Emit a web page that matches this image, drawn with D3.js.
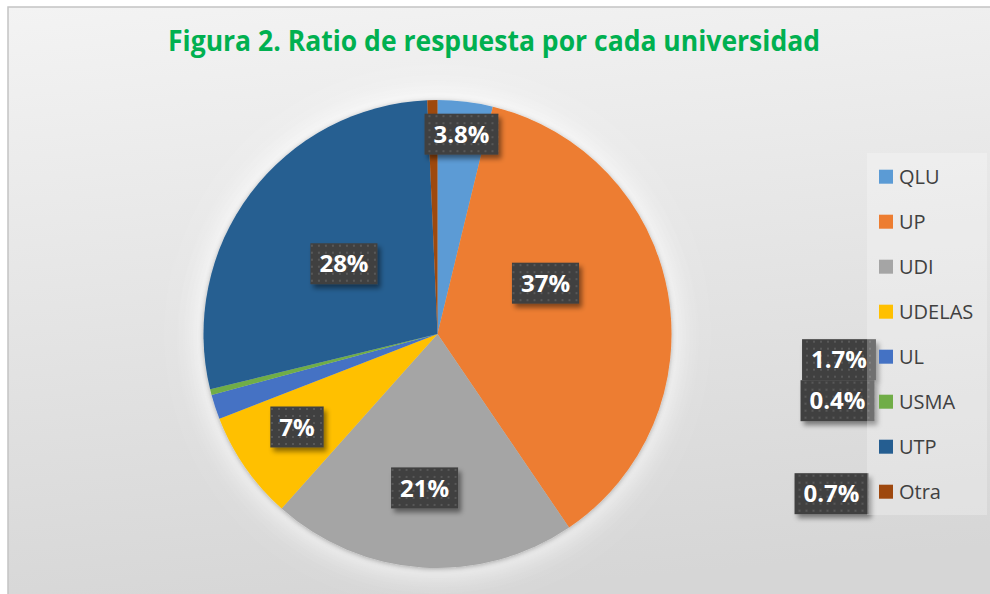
<!DOCTYPE html>
<meta charset="utf-8">
<head>
  <script src="https://d3js.org/d3.v7.min.js"></script>
  <style>
    body { margin: 0; background: #fff; }
    svg text { font-family: "Open Sans", sans-serif; }
  </style>
</head>
<body>
<div id="chart"></div>
<script type="text/javascript">
  "use strict"

  // datos
  var universidades = ["QLU", "UP", "UDI", "UDELAS", "UL", "USMA", "UTP", "Otra"];
  var porcentajes   = [3.8, 36.7, 21.1, 7.5, 1.7, 0.4, 28.1, 0.7];
  var etiquetas     = ["3.8%", "37%", "21%", "7%", "1.7%", "0.4%", "28%", "0.7%"];
  var colores       = ["#5B9BD5", "#ED7D31", "#A5A5A5", "#FFC000", "#4472C4", "#70AD47", "#255E91", "#9E480E"];

  var titulo = "Figura 2. Ratio de respuesta por cada universidad";

  // dónde va cada etiqueta: dentro (radio relativo, ángulo opcional) o junto a la leyenda
  var posEtiquetas = [
    {r: 0.86}, {r: 0.51, ang: 64.8}, {r: 0.66, ang: 184.8}, {r: 0.72, ang: 236.5},
    {fila: 4, dx: -32, dy: 3}, {fila: 5, dx: -33.5, dy: -1}, {r: 0.5}, {fila: 7, dx: -39.5, dy: 2}
  ];

  var ancho = 990, alto = 594;
  var cx = 437.5, cy = 334, radio = 234;

  var svg = d3.select('#chart').append('svg')
      .attr('width', ancho)
      .attr('height', alto);

  var defs = svg.append('defs');

  var fondo = defs.append('linearGradient')
      .attr('id', 'fondo')
      .attr('x1', 0).attr('y1', 0).attr('x2', 0.15).attr('y2', 1);
  fondo.append('stop').attr('offset', 0).attr('stop-color', '#f3f3f3');
  fondo.append('stop').attr('offset', 1).attr('stop-color', '#d6d6d6');

  var brillo = defs.append('filter').attr('id', 'brillo')
      .attr('x', -0.3).attr('y', -0.3).attr('width', 1.6).attr('height', 1.6);
  brillo.append('feGaussianBlur').attr('stdDeviation', 16);

  var sombraPie = defs.append('filter').attr('id', 'sombraPie')
      .attr('x', -0.2).attr('y', -0.2).attr('width', 1.4).attr('height', 1.4);
  sombraPie.append('feDropShadow')
      .attr('dx', 0).attr('dy', 1).attr('stdDeviation', 2.5)
      .attr('flood-color', '#000').attr('flood-opacity', 0.3);

  var sombra = defs.append('filter').attr('id', 'sombra')
      .attr('x', -0.3).attr('y', -0.3).attr('width', 1.7).attr('height', 1.8);
  sombra.append('feDropShadow')
      .attr('dx', 3).attr('dy', 4).attr('stdDeviation', 2.5)
      .attr('flood-color', '#000').attr('flood-opacity', 0.45);

  var puntos = defs.append('pattern').attr('id', 'puntos')
      .attr('width', 7).attr('height', 7)
      .attr('patternUnits', 'userSpaceOnUse');
  puntos.append('rect').attr('width', 7).attr('height', 7).attr('fill', '#404040');
  puntos.append('rect').attr('x', 2).attr('y', 2).attr('width', 2).attr('height', 2).attr('fill', '#585858');

  // área del gráfico
  svg.append('rect')
      .attr('x', 8).attr('y', 7)
      .attr('width', ancho + 20).attr('height', alto + 20)
      .attr('fill', 'url(#fondo)')
      .attr('stroke', '#c4c4c4')
      .attr('stroke-width', 1.5);

  // título (fuente comprimida para imitar Calibri)
  svg.append('text')
      .attr('x', 494).attr('y', 51)
      .attr('text-anchor', 'middle')
      .attr('textLength', 652)
      .attr('lengthAdjust', 'spacingAndGlyphs')
      .style('font-weight', 'bold')
      .style('font-size', '28px')
      .attr('fill', '#00B050')
      .text(titulo);

  // pastel
  var datos = universidades.map(function(u, i) {
    return {nombre: u, valor: porcentajes[i], etiqueta: etiquetas[i], color: colores[i], pos: posEtiquetas[i]};
  });

  var pie = d3.pie().sort(null).value(function(d) { return d.valor; });
  var arco = d3.arc().innerRadius(0).outerRadius(radio);

  var g = svg.append('g').attr('transform', 'translate(' + cx + ',' + cy + ')');

  g.append('circle').attr('r', radio + 4)
      .attr('fill', '#ffffff').attr('opacity', 0.95)
      .attr('filter', 'url(#brillo)');

  var gp = g.append('g').attr('filter', 'url(#sombraPie)');
  gp.selectAll('path')
      .data(pie(datos))
      .enter()
    .append('path')
      .attr('d', arco)
      .attr('fill', function(d) { return d.data.color; });

  // leyenda
  var leyX = 879, leyY = 176.7, leyPaso = 45;

  function posicion(d) {
    var p = d.data.pos;
    if (p.fila !== undefined) {
      return [leyX - 8 + p.dx - cx, leyY + p.fila * leyPaso + p.dy - cy];
    }
    var a = p.ang !== undefined ? p.ang * Math.PI / 180 : (d.startAngle + d.endAngle) / 2;
    return [Math.sin(a) * radio * p.r, -Math.cos(a) * radio * p.r];
  }

  var etq = g.selectAll('g.etq')
      .data(pie(datos))
      .enter()
    .append('g')
      .attr('class', 'etq')
      .attr('transform', function(d) { return 'translate(' + posicion(d) + ')'; });

  etq.each(function(d) {
    var e = d3.select(this);
    var caja = e.append('rect').attr('fill', 'url(#puntos)').attr('filter', 'url(#sombra)');
    var tx = e.append('text')
        .attr('text-anchor', 'middle')
        .attr('dy', '0.36em')
        .style('font-weight', 'bold')
        .style('font-size', '24px')
        .attr('fill', '#ffffff')
        .text(d.data.etiqueta);
    var w = tx.node().getComputedTextLength() + 18;
    caja.attr('x', -w / 2).attr('y', -20.5).attr('width', w).attr('height', 41);
  });

  svg.append('rect')
      .attr('x', 867).attr('y', 153)
      .attr('width', 120).attr('height', 362)
      .attr('fill', '#ffffff').attr('fill-opacity', 0.25);

  var ley = svg.selectAll('g.ley')
      .data(datos)
      .enter()
    .append('g')
      .attr('class', 'ley')
      .attr('transform', function(d, i) { return 'translate(' + leyX + ',' + (leyY + i * leyPaso) + ')'; });

  ley.append('rect')
      .attr('x', 0).attr('y', -7)
      .attr('width', 14).attr('height', 14)
      .attr('fill', function(d) { return d.color; });

  ley.append('text')
      .attr('x', 20)
      .attr('dy', '0.36em')
      .style('font-size', '20px')
      .attr('fill', '#404040')
      .text(function(d) { return d.nombre; });
</script>
</body>
</html>
